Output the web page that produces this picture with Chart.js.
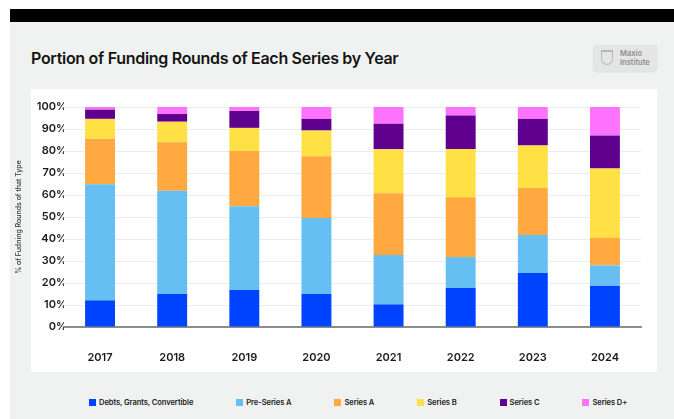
<!DOCTYPE html>
<html>
<head>
<meta charset="utf-8">
<script src="https://cdn.jsdelivr.net/npm/chart.js@4.4.1/dist/chart.umd.min.js"></script>
<style>
  html, body { margin: 0; padding: 0; background: #fff; }
  body { width: 674px; height: 419px; position: relative; overflow: hidden; font-family: Inter, "Noto Sans", sans-serif; }
  #topbar { position: absolute; left: 10px; top: 9px; right: 0; height: 13px; background: #000; }
  #bg { position: absolute; left: 10px; top: 22px; right: 0; bottom: 0; background: #f0f2f1; }
  #panel { position: absolute; left: 31px; top: 89px; width: 626px; height: 283px; background: #fff; }
  #title { position: absolute; left: 31px; top: 48px; font-size: 16px; font-weight: 600; color: #141414; letter-spacing: -0.3px; }
  #logo { position: absolute; left: 593px; top: 45px; width: 64px; height: 26px; background: #e4e5e5; border-radius: 3px; box-shadow: 0 1px 2px rgba(0,0,0,0.08); }
  #logo .shield { position: absolute; left: 8px; top: 5px; width: 12px; height: 15px; border: 1px solid #b8b8b8; border-top-width: 2px; border-radius: 0 0 6px 6px; box-sizing: border-box; }
  #logo .txt { position: absolute; left: 27px; top: 5px; font-size: 7.5px; line-height: 8.5px; color: #8f8f8f; font-weight: 600; }
  #legend { position: absolute; left: 89px; top: 398px; display: flex; gap: 43px; font-size: 7.6px; font-weight: 600; color: #222; white-space: nowrap; letter-spacing: -0.1px; }
  #legend span.item { display: flex; align-items: center; }
  #legend i { display: inline-block; width: 7px; height: 7px; margin-right: 3px; }
  #wrap { position: absolute; left: 0; top: 0; width: 674px; height: 419px; }
</style>
</head>
<body>
<div id="topbar"></div>
<div id="bg"></div>
<div id="panel"></div>
<div id="title">Portion of Funding Rounds of Each Series by Year</div>
<div id="logo"><div class="shield"></div><div class="txt">Maxio<br>Institute</div></div>
<div id="legend"></div>
<div id="wrap"><canvas id="chart"></canvas></div>
<script>
const years = ['2017', '2018', '2019', '2020', '2021', '2022', '2023', '2024'];
const seriesNames = ['Debts, Grants, Convertible', 'Pre-Series A', 'Series A', 'Series B', 'Series C', 'Series D+'];
const seriesColors = ['#0043ff', '#66bff3', '#ffa940', '#ffe045', '#60008f', '#ff73fc'];

// percent of rounds
const debts    = [12.1, 15.0, 16.8, 15.0, 10.3, 17.7, 24.5, 18.8];
const preA     = [52.8, 46.9, 38.1, 34.5, 22.4, 14.1, 17.3,  9.2];
const seriesA  = [20.7, 22.1, 25.1, 28.1, 28.1, 27.2, 21.4, 12.5];
const seriesB  = [ 9.0,  9.3, 10.5, 11.7, 20.0, 21.9, 19.3, 31.5];
const seriesC  = [ 4.2,  3.5,  7.7,  5.3, 11.6, 15.2, 12.1, 15.1];
const seriesD  = [ 1.2,  3.2,  1.8,  5.4,  7.6,  3.9,  5.4, 12.9];

const yTicks = [0, 10, 20, 30, 40, 50, 60, 70, 80, 90, 100];

const allSeries = [debts, preA, seriesA, seriesB, seriesC, seriesD];

// legend in html (sits in the gray area under the white panel)
const legendEl = document.getElementById('legend');
seriesNames.forEach(function(name, i) {
    const item = document.createElement('span');
    item.className = 'item';
    item.innerHTML = '<i style="background:' + seriesColors[i] + '"></i>' + name;
    legendEl.appendChild(item);
});

const ctx = document.getElementById('chart');
new Chart(ctx, {
    type: 'bar',
    data: {
        labels: years,
        datasets: allSeries.map(function(vals, i) {
            return {
                label: seriesNames[i],
                data: vals,
                backgroundColor: seriesColors[i],
                borderWidth: 0,
                barPercentage: 0.415,
                categoryPercentage: 1
            };
        })
    },
    options: {
        responsive: true,
        maintainAspectRatio: false,
        animation: false,
        layout: { padding: { left: 8, right: 33, top: 107, bottom: 47 } },
        plugins: {
            legend: { display: false },
            tooltip: { enabled: false }
        },
        scales: {
            x: {
                stacked: true,
                afterFit: function(scale) { scale.height = 45; },
                grid: { display: false, drawTicks: false },
                border: { display: true, color: '#8c8c8c', width: 2 },
                ticks: {
                    padding: 24,
                    color: '#1a1a1a',
                    font: { family: 'Inter', size: 11, weight: '600' }
                }
            },
            y: {
                stacked: true,
                min: 0,
                max: 100,
                afterFit: function(scale) { scale.width = 56; },
                afterBuildTicks: function(scale) {
                    scale.ticks = yTicks.map(function(v) { return { value: v }; });
                },
                grid: { color: '#ececec', lineWidth: 1, drawTicks: false },
                border: { display: false },
                ticks: {
                    padding: -3,
                    color: '#1a1a1a',
                    font: { family: 'Inter', size: 11, weight: '600' },
                    callback: function(v) { return v + '%'; }
                },
                title: {
                    display: true,
                    text: '% of Fudning Rounds of that Type',
                    color: '#333',
                    font: { family: 'Inter', size: 7, weight: '500' },
                    padding: { top: 7, bottom: 0 }
                }
            }
        }
    }
});
</script>
</body>
</html>
